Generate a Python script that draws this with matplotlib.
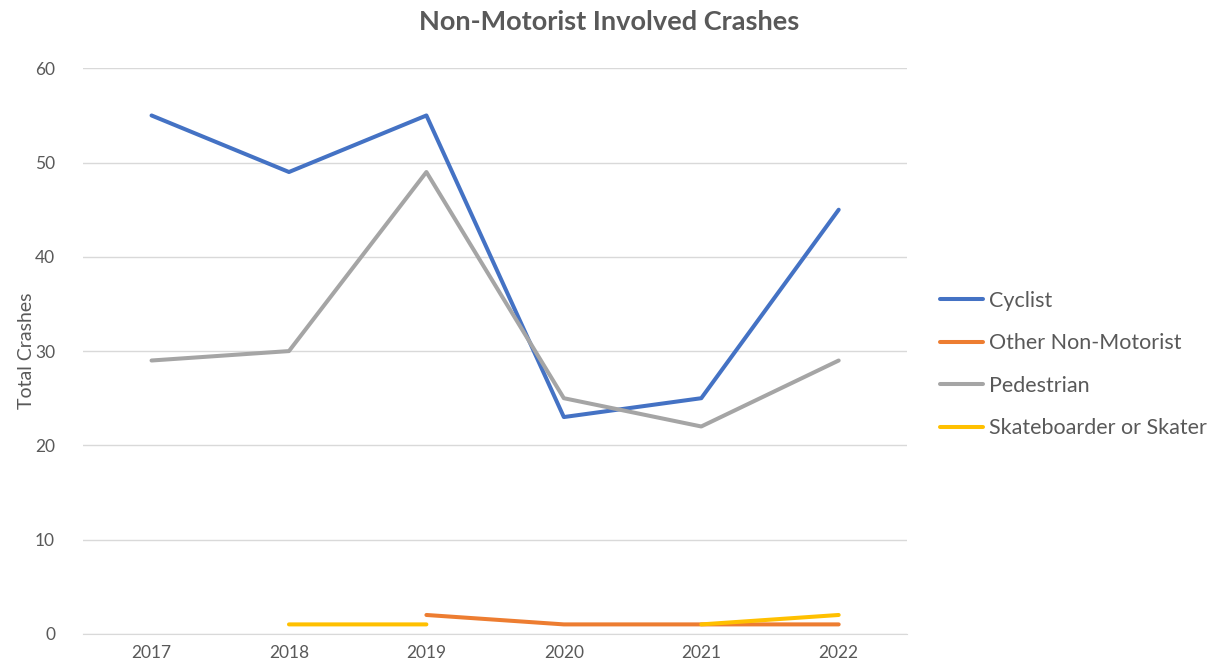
import numpy as np
import matplotlib
matplotlib.use("Agg")
import matplotlib.pyplot as plt

plt.rcParams['font.family'] = ['Lato', 'DejaVu Sans']

years = ["2017", "2018", "2019", "2020", "2021", "2022"]
cyclist = [55, 49, 55, 23, 25, 45]
other = [np.nan, np.nan, 2, 1, 1, 1]
pedestrian = [29, 30, 49, 25, 22, 29]
skater = [np.nan, 1, 1, np.nan, 1, 2]

series = [
    ("Cyclist", cyclist, "#4472C4"),
    ("Other Non-Motorist", other, "#ED7D31"),
    ("Pedestrian", pedestrian, "#A5A5A5"),
    ("Skateboarder or Skater", skater, "#FFC000"),
]

fig = plt.figure(figsize=(12.18, 6.70), dpi=100)
ax = fig.add_axes([0.068, 0.054, 0.677, 0.844])

x = np.arange(len(years))
for name, vals, col in series:
    ax.plot(x, vals, color=col, linewidth=2.9, label=name, solid_capstyle="round")

ax.set_xlim(-0.5, len(years) - 0.5)
ax.set_ylim(0, 60)
ax.set_yticks(range(0, 61, 10))
ax.set_xticks(x)
ax.set_xticklabels(years)
ax.grid(axis="y", color="#D9D9D9", linewidth=1)
ax.set_axisbelow(True)
for s in ax.spines.values():
    s.set_visible(False)
ax.spines["bottom"].set_visible(True)
ax.spines["bottom"].set_color("#D9D9D9")
ax.tick_params(axis="both", length=0, labelsize=12.5, colors="#595959", pad=8)
ax.tick_params(axis="y", pad=20)
ax.set_ylabel("Total Crashes", fontsize=14, color="#595959", labelpad=0)

fig.suptitle("Non-Motorist Involved Crashes", x=0.5, y=0.985, fontsize=19.5,
             fontweight="bold", color="#595959")

fig.legend(loc="center left", bbox_to_anchor=(0.772, 0.456), frameon=False,
           borderaxespad=0, borderpad=0,
           fontsize=15.5, labelcolor="#595959", handlelength=2.0,
           handletextpad=0.25, labelspacing=1.05)

fig.savefig("out.png", dpi=100)
